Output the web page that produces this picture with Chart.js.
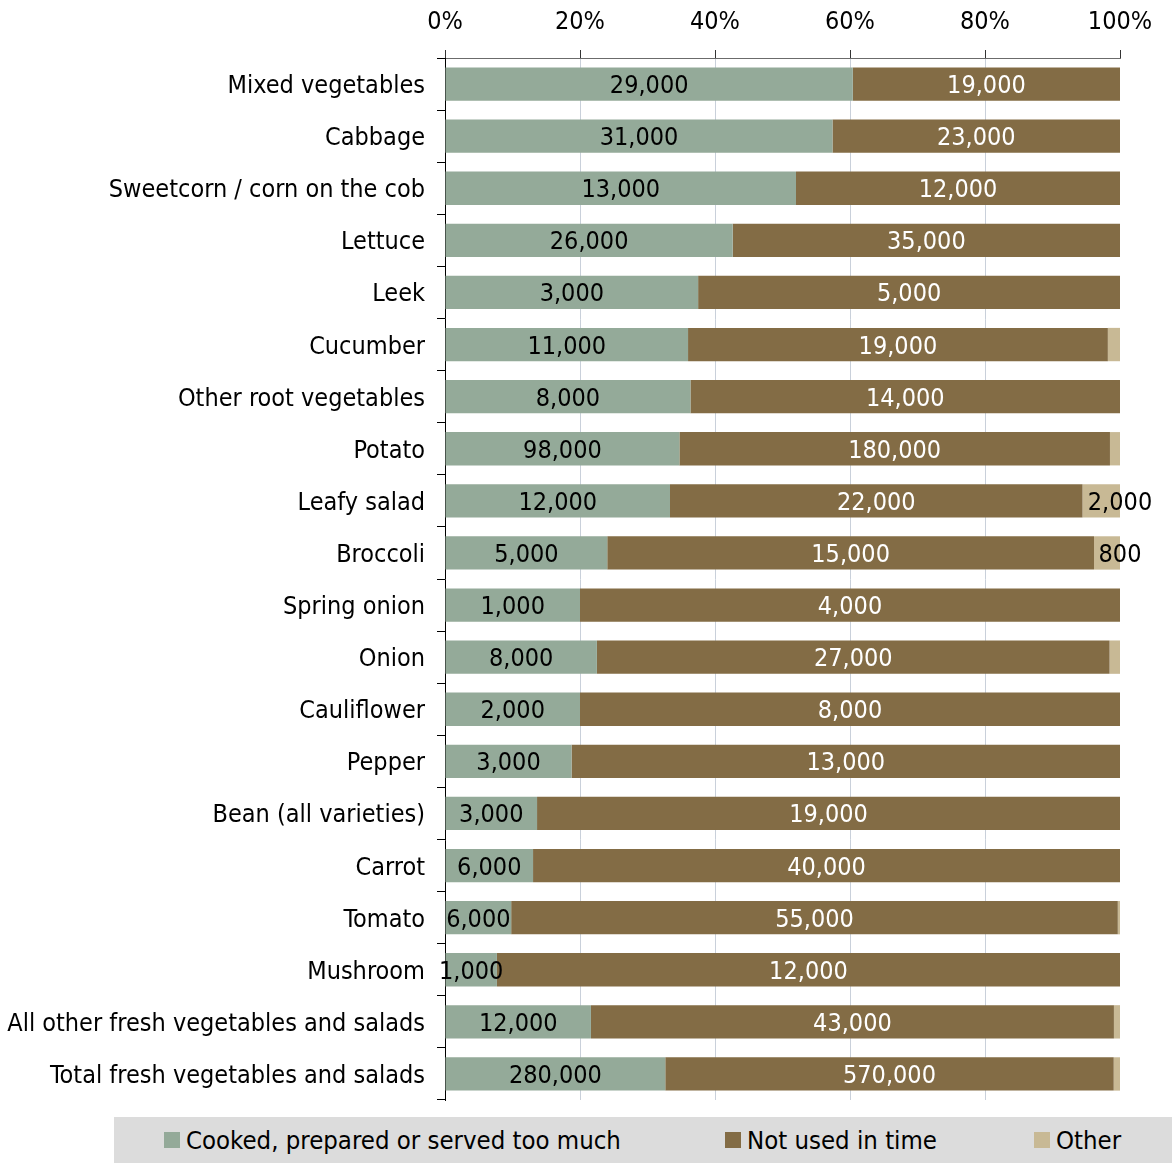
<!DOCTYPE html>
<html>
<head>
<meta charset="utf-8">
<script src="https://cdn.jsdelivr.net/npm/chart.js@4/dist/chart.umd.min.js"></script>
<style>
  html, body { margin:0; padding:0; background:#fff; }
  #wrap { position:relative; width:1172px; height:1163px; }
  #box { position:absolute; left:0; top:0; width:1172px; height:1110px; }
  #legend { position:absolute; left:114px; top:1117px; width:1058px; height:46px; background:#dcdcdc; }
  #legend .item { position:absolute; top:0; height:46px; display:flex; align-items:center; font:25.5px 'DejaVu Sans Condensed','DejaVu Sans',sans-serif; color:#000; white-space:nowrap; }
  #legend .sw { width:16px; height:16px; margin-right:6px; }
</style>
</head>
<body>
<div id="wrap">
  <div id="box"><canvas id="chart"></canvas></div>
  <div id="legend"></div>
</div>
<script>
// categories, top to bottom
const categories = [
  'Mixed vegetables', 'Cabbage', 'Sweetcorn / corn on the cob', 'Lettuce', 'Leek',
  'Cucumber', 'Other root vegetables', 'Potato', 'Leafy salad', 'Broccoli',
  'Spring onion', 'Onion', 'Cauliflower', 'Pepper', 'Bean (all varieties)',
  'Carrot', 'Tomato', 'Mushroom', 'All other fresh vegetables and salads', 'Total fresh vegetables and salads'
];
// tonnes per year by reason
const cooked  = [29000, 31000, 13000, 26000, 3000, 11000, 8000, 98000, 12000, 5000, 1000, 8000, 2000, 3000, 3000, 6000, 6000, 1000, 12000, 280000];
const notUsed = [19000, 23000, 12000, 35000, 5000, 19000, 14000, 180000, 22000, 15000, 4000, 27000, 8000, 13000, 19000, 40000, 55000, 12000, 43000, 570000];
const other   = [0, 0, 0, 0, 0, 550, 0, 4200, 2000, 800, 0, 550, 0, 0, 0, 0, 200, 0, 500, 8000];
const seriesNames = ['Cooked, prepared or served too much', 'Not used in time', 'Other'];
const xTicks = [0, 20, 40, 60, 80, 100];

const COLORS = ['#94aa99', '#836c45', '#c8b995'];
const LABEL_COLORS = ['#000', '#fff', '#000'];
const FONT = "'DejaVu Sans Condensed', 'DejaVu Sans', sans-serif";
const FS = 25;

const raw = [cooked, notUsed, other];
const totals = categories.map((_, i) => cooked[i] + notUsed[i] + other[i]);
const pct = raw.map(arr => arr.map((v, i) => v / totals[i] * 100));

// value labels drawn on the segments
const valueLabels = {
  id: 'valueLabels',
  afterDatasetsDraw(chart) {
    const ctx = chart.ctx;
    ctx.save();
    ctx.font = FS + 'px ' + FONT;
    ctx.textAlign = 'center';
    ctx.textBaseline = 'middle';
    chart.data.datasets.forEach((ds, di) => {
      chart.getDatasetMeta(di).data.forEach((bar, i) => {
        const v = raw[di][i];
        if (!v) return;
        if (di === 2 && ds.data[i] < 3) return; // small "other" slivers stay unlabelled
        const x = di === 2 ? bar.x : (bar.x + bar.base) / 2;
        ctx.fillStyle = LABEL_COLORS[di];
        ctx.fillText(v.toLocaleString('en-US'), x, bar.y + 2.5);
      });
    });
    ctx.restore();
  }
};

new Chart(document.getElementById('chart'), {
  type: 'bar',
  data: {
    labels: categories,
    datasets: pct.map((d, i) => ({
      label: seriesNames[i],
      data: d,
      backgroundColor: COLORS[i],
      borderWidth: 0,
      categoryPercentage: 1,
      barPercentage: 0.64
    }))
  },
  options: {
    indexAxis: 'y',
    responsive: true,
    maintainAspectRatio: false,
    animation: false,
    layout: { padding: { left: 0, right: 52, top: 0, bottom: 10 } },
    plugins: { legend: { display: false }, tooltip: { enabled: false } },
    scales: {
      x: {
        position: 'top',
        stacked: true,
        min: 0, max: 100,
        afterBuildTicks: s => { s.ticks = xTicks.map(v => ({ value: v })); },
        afterFit: s => { s.height = 58; },
        ticks: { color: '#000', font: { family: FONT, size: FS }, padding: 13, callback: v => v + '%' },
        grid: {
          color: c => (c.tick && (c.tick.value === 0 || c.tick.value === 100)) ? 'rgba(0,0,0,0)' : '#c9d0da',
          tickColor: '#333',
          tickLength: 8,
          lineWidth: 1
        },
        border: { color: '#6b6b6b', width: 1 }
      },
      y: {
        stacked: true,
        afterFit: s => { s.width = 445; s.paddingTop = 0; s.paddingBottom = 0; },
        ticks: { color: '#000', font: { family: FONT, size: FS }, padding: 12, labelOffset: 2.5 },
        grid: { drawOnChartArea: false, tickColor: '#000', tickLength: 8 },
        border: { color: '#000', width: 1 }
      }
    }
  },
  plugins: [valueLabels]
});

// legend strip
const legendX = [50, 611, 920];
const legend = document.getElementById('legend');
seriesNames.forEach((name, i) => {
  const it = document.createElement('div');
  it.className = 'item';
  it.style.left = legendX[i] + 'px';
  it.innerHTML = '<span class="sw" style="background:' + COLORS[i] + '"></span><span>' + name + '</span>';
  legend.appendChild(it);
});
</script>
</body>
</html>
